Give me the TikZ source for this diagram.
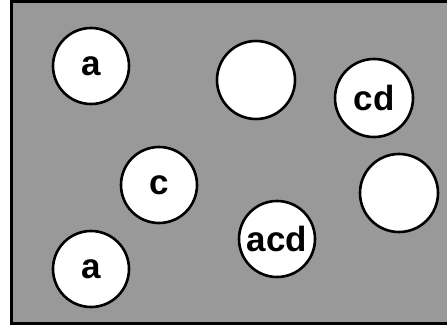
\documentclass[tikz,border=0pt]{standalone}
\usepackage{fontspec}
\setmainfont{Liberation Sans}
\tikzset{
  disc/.style={circle, draw, line width=2.6pt, fill=white, minimum size=76pt,
    inner sep=0pt, font=\fontsize{35}{38}\selectfont\bfseries},
}
\begin{document}
\begin{tikzpicture}[x=1pt,y=-1pt]
  \useasboundingbox(0,0) rectangle (447,324);
  \clip(0,0) rectangle (447,324);
  \draw[line width=3pt, fill=black!40](11.5,1.5) rectangle (480,323);
  \node[disc] (a1) at (91,66) {a};
  \node[disc, minimum size=78pt] (e1) at (256,80) {};
  \node[disc, minimum size=78pt] (cd) at (374,98) {cd};
  \node[disc] (c) at (159,185) {c};
  \node[disc, minimum size=78pt] (e2) at (399,193) {};
  \node[disc] (acd) at (277,239) {acd};
  \node[disc] (a2) at (91,269) {a};
\end{tikzpicture}
\end{document}
